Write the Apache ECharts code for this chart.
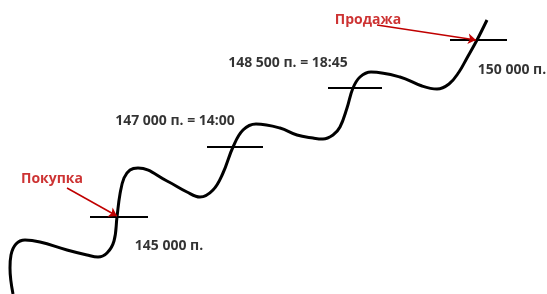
<!DOCTYPE html>
<html>
<head>
<meta charset="utf-8">
<script src="https://cdn.jsdelivr.net/npm/echarts@6/dist/echarts.min.js"></script>
<style>
  html, body { margin: 0; padding: 0; background: #fff; }
  #chart { width: 547px; height: 294px; }
</style>
</head>
<body>
<div id="chart"></div>
<script>
// кривая цены (x, y в координатах картинки)
var pricePath = [
    [13, 294], [10, 268], [11, 255], [16, 244], [25, 240], [40, 242],
    [67, 250], [87, 255], [98, 257], [107, 253], [114, 241], [117, 217],
    [120, 194], [124, 178], [130, 170], [138, 168], [167, 181], [187, 192],
    [200, 197], [213, 190], [223, 173], [233, 147], [243, 130], [256, 124],
    [280, 128], [297, 135], [313, 138], [323, 139], [333, 135], [340, 127],
    [347, 108], [353, 88], [360, 77], [371, 72], [400, 77], [422, 86],
    [437, 89], [449, 84], [459, 72], [467, 58], [477, 40], [487, 20]
];
// горизонтальные отметки уровней
var levelTicks = [
    [[90, 217], [148, 217]],
    [[207, 147], [263, 147]],
    [[328, 88], [382, 88]],
    [[450, 40], [507, 40]]
];
// подписи уровней
var levelLabels = [
    { text: '145 000 п.', pos: [169, 246] },
    { text: '147 000 п. = 14:00', pos: [175, 121] },
    { text: '148 500 п. = 18:45', pos: [288, 63] },
    { text: '150 000 п.', pos: [512, 70] }
];
// красные стрелки и подписи
var actionLabels = [
    { text: 'Покупка', pos: [52, 179] },
    { text: 'Продажа', pos: [368, 20] }
];
var actionArrows = [
    [[67, 188], [117, 216]],
    [[377, 25], [476, 40]]
];

var red = '#c00000';
var chart = echarts.init(document.getElementById('chart'));

var series = [{
    type: 'line',
    data: pricePath,
    smooth: 0.4,
    symbol: 'none',
    lineStyle: { color: '#000', width: 3 },
    z: 3
}];
levelTicks.forEach(function(t) {
    series.push({
        type: 'line',
        data: t,
        symbol: 'none',
        lineStyle: { color: '#000', width: 2 },
        z: 2
    });
});
series.push({
    type: 'lines',
    coordinateSystem: 'cartesian2d',
    data: actionArrows.map(function(a) { return { coords: a }; }),
    symbol: ['none', 'arrow'],
    symbolSize: 8,
    lineStyle: { color: red, width: 1.5, opacity: 1 },
    z: 4
});
series.push({
    type: 'scatter',
    symbolSize: 0,
    data: levelLabels.map(function(l) {
        return { value: l.pos, label: { formatter: l.text } };
    }),
    label: {
        show: true, position: 'inside', color: '#000',
        fontFamily: 'Open Sans', fontWeight: 'bold', fontSize: 14
    }
});
series.push({
    type: 'scatter',
    symbolSize: 0,
    data: actionLabels.map(function(l) {
        return { value: l.pos, label: { formatter: l.text } };
    }),
    label: {
        show: true, position: 'inside', color: red,
        fontFamily: 'Open Sans', fontWeight: 'bold', fontSize: 14
    }
});

chart.setOption({
    animation: false,
    backgroundColor: '#fff',
    grid: { left: 0, right: 0, top: 0, bottom: 0 },
    xAxis: { type: 'value', min: 0, max: 547, show: false },
    yAxis: { type: 'value', min: 0, max: 294, inverse: true, show: false },
    series: series
});
</script>
</body>
</html>
